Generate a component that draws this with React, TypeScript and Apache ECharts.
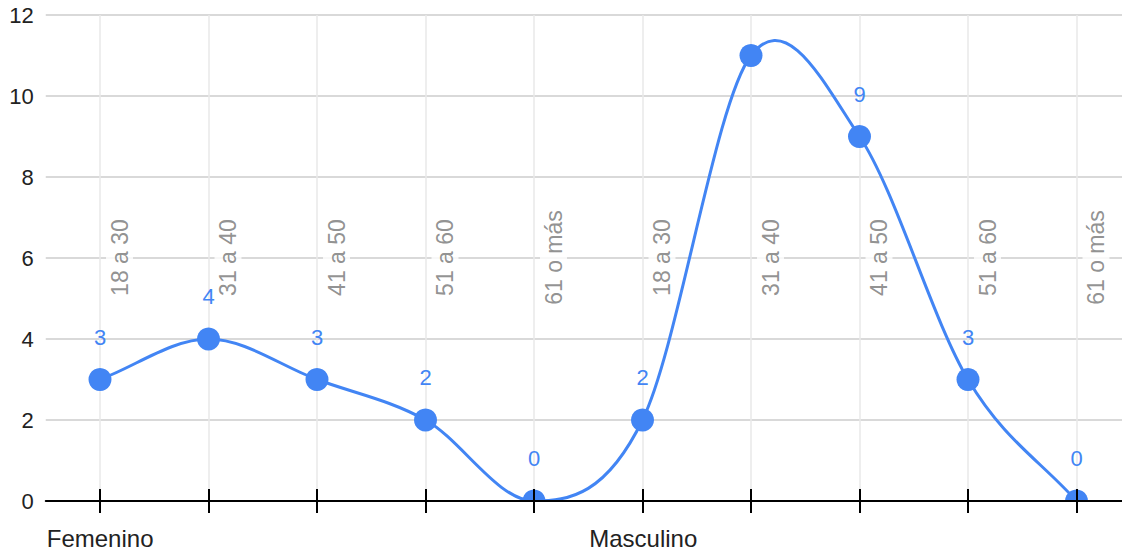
import React, { useEffect, useRef } from "react";
import * as echarts from "echarts";

const categories = ["18 a 30", "31 a 40", "41 a 50", "51 a 60", "61 o más", "18 a 30", "31 a 40", "41 a 50", "51 a 60", "61 o más"];
const values = [3, 4, 3, 2, 0, 2, 11, 9, 3, 0];
const groups = ["Femenino", "Masculino"];
const groupStarts = [0, 5];
const yMin = 0;
const yMax = 12;
const yInterval = 2;
const categoryLabelLevel = 6;

const FONT = "Arial, 'Liberation Sans', sans-serif";
const W = 1140;
const H = 552;
const BLUE = "#4285F4";

export default function App() {
  const ref = useRef<HTMLDivElement>(null);

  useEffect(() => {
    const chart = echarts.init(ref.current!, null, { renderer: "svg", width: W, height: H });
    const baseX = {
      type: "category",
      data: categories,
      boundaryGap: true,
      position: "bottom",
      gridIndex: 0,
      axisLabel: { show: false },
    };

    // Hermite (Catmull-Rom like) segment between point i and i+1, via the axis scales
    const renderSegment = (params: any, api: any) => {
      const i = params.dataIndex;
      const n = values.length;
      if (i >= n - 1) return null;
      const pt = (j: number) => api.coord([j, values[j]]) as number[];
      const p0 = pt(i);
      const p1 = pt(i + 1);
      const slope = (j: number) => {
        const a = pt(Math.max(0, j - 1));
        const b = pt(Math.min(n - 1, j + 1));
        return (b[1] - a[1]) / (b[0] - a[0]);
      };
      const m0 = slope(i);
      const m1 = slope(i + 1);
      const dx = (p1[0] - p0[0]) / 3;
      return {
        type: "bezierCurve",
        shape: {
          x1: p0[0], y1: p0[1],
          x2: p1[0], y2: p1[1],
          cpx1: p0[0] + dx, cpy1: p0[1] + m0 * dx,
          cpx2: p1[0] - dx, cpy2: p1[1] - m1 * dx,
        },
        style: { stroke: BLUE, lineWidth: 3, fill: null, lineCap: "round" },
        silent: true,
      };
    };

    const option: any = {
      animation: false,
      grid: { left: 45.75, right: W - 1130.75, top: 15, bottom: 51, containLabel: false, outerBoundsMode: "none" },
      xAxis: [
        {
          ...baseX,
          axisLine: { show: false },
          axisTick: { show: false },
          splitLine: { show: true, alignWithLabel: true, lineStyle: { color: "#e8e8e8", width: 1.5 } },
          z: 0,
        },
        {
          ...baseX,
          axisLine: { show: true, onZero: false, lineStyle: { color: "#000", width: 2 } },
          axisTick: { show: true, inside: true, length: 12, alignWithLabel: true, lineStyle: { color: "#000", width: 2 } },
          splitLine: { show: false },
          z: 10,
        },
        {
          ...baseX,
          axisLine: { show: false },
          axisTick: { show: true, inside: false, length: 12, alignWithLabel: true, lineStyle: { color: "#000", width: 2 } },
          splitLine: { show: false },
          z: 10,
        },
      ],
      yAxis: [
        {
          type: "value", position: "left", min: yMin, max: yMax, interval: yInterval,
          axisLine: { show: false }, axisTick: { show: false }, axisLabel: { show: false },
          splitLine: { show: true, lineStyle: { color: "#cccccc", width: 1.5 } },
          z: 0,
        },
        {
          type: "value", position: "left", min: yMin, max: yMax, interval: yInterval,
          axisLine: { show: false }, axisTick: { show: false },
          axisLabel: { show: true, color: "#222", fontSize: 22, fontFamily: FONT, margin: 12 },
          splitLine: { show: false },
          z: 10,
        },
      ],
      series: [
        {
          type: "scatter",
          xAxisIndex: 0,
          yAxisIndex: 0,
          data: categories.map((_, i) => [i, categoryLabelLevel]),
          symbolSize: 1,
          itemStyle: { color: "rgba(0,0,0,0)" },
          silent: true,
          z: 2,
          label: {
            show: true,
            position: [20, 0],
            rotate: 90,
            align: "center",
            verticalAlign: "middle",
            formatter: (p: any) => categories[p.dataIndex],
            color: "#757575",
            fontSize: 23,
            fontFamily: FONT,
            backgroundColor: "#fff",
            padding: [2, 1],
          },
        },
        {
          type: "custom",
          xAxisIndex: 0,
          yAxisIndex: 0,
          data: values.map((v, i) => [i, v]),
          encode: { x: 0, y: 1 },
          renderItem: renderSegment,
          silent: true,
          z: 3,
        },
        {
          type: "line",
          xAxisIndex: 0,
          yAxisIndex: 0,
          // a value label is hidden when it would not fit below the top of the plot
          data: values.map((v) => ({ value: v, label: { show: v <= yMax - 1.5 } })),
          symbol: "circle",
          symbolSize: 23,
          showSymbol: true,
          lineStyle: { width: 0, opacity: 0 },
          itemStyle: { color: BLUE },
          z: 4,
          label: {
            show: true,
            position: "top",
            distance: 20,
            color: BLUE,
            fontSize: 22,
            fontFamily: FONT,
          },
        },
      ],
    };
    chart.setOption(option);

    const p0 = chart.convertToPixel({ xAxisIndex: 0 }, 0) as number;
    const p1 = chart.convertToPixel({ xAxisIndex: 0 }, 1) as number;
    const step = p1 - p0;
    const yBase = chart.convertToPixel({ yAxisIndex: 0 }, 0) as number;

    chart.setOption({
      graphic: [
        {
          type: "rect",
          z: 5,
          shape: { x: 0, y: yBase, width: W, height: H - yBase },
          style: { fill: "#fff" },
          silent: true,
        },
        ...groups.map((g, i) => ({
          type: "text",
          z: 20,
          x: (chart.convertToPixel({ xAxisIndex: 0 }, groupStarts[i]) as number) - step / 2 + 1,
          y: 538,
          style: {
            text: g,
            fill: "#222",
            font: `24px ${FONT}`,
            textAlign: "left",
            textVerticalAlign: "middle",
          },
        })),
      ],
    });

    return () => chart.dispose();
  }, []);

  return (
    <div style={{ position: "fixed", left: 0, top: 0, width: 1122, height: H, overflow: "hidden", background: "#fff" }}>
      <div ref={ref} style={{ width: W, height: H }} />
    </div>
  );
}
